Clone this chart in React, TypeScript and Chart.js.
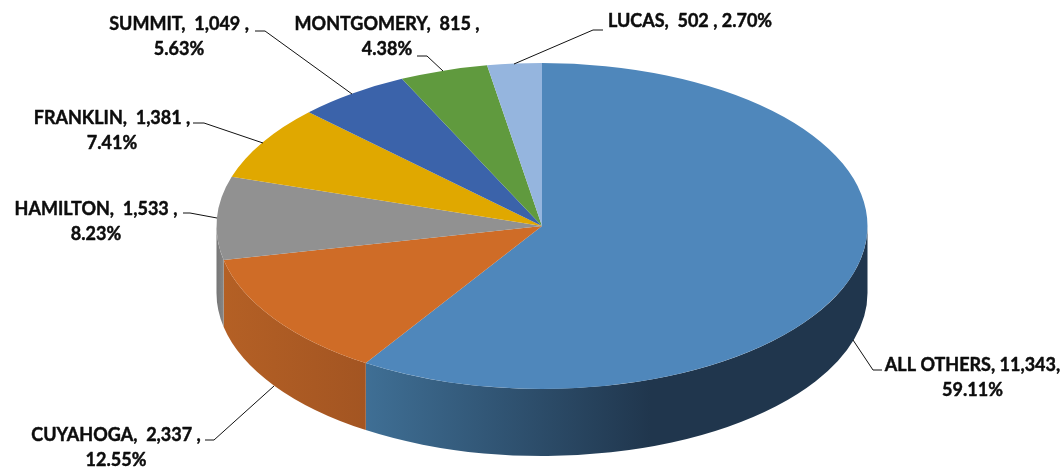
import React, { useEffect, useRef } from "react";
import { Chart, registerables } from "chart.js";

Chart.register(...registerables);

const categories = ["ALL OTHERS", "CUYAHOGA", "HAMILTON", "FRANKLIN", "SUMMIT", "MONTGOMERY", "LUCAS"];
const sharePercent = [59.11, 12.55, 8.23, 7.41, 5.63, 4.38, 2.7];
const labelLines = [
  ["ALL OTHERS, 11,343,", "59.11%"],
  ["CUYAHOGA,  2,337 ,", "12.55%"],
  ["HAMILTON,  1,533 ,", "8.23%"],
  ["FRANKLIN,  1,381 ,", "7.41%"],
  ["SUMMIT,  1,049 ,", "5.63%"],
  ["MONTGOMERY,  815 ,", "4.38%"],
  ["LUCAS,  502 , 2.70%"],
];
const topColors = ["#4F87BB", "#CF6C27", "#919191", "#E0A800", "#3B63AA", "#609A3E", "#95B5DE"];
const wallColors = [
  ["#3F6F95", "#20364D"],
  ["#B46025", "#A35522"],
  ["#767676", "#868686"],
  ["#B08400", "#B08400"],
  ["#2C4A80", "#2C4A80"],
  ["#48742F", "#48742F"],
  ["#7088A8", "#7088A8"],
];
// label centre x, first line middle y
const labelCenters = [
  [972.5, 365],
  [116, 435],
  [96, 209],
  [112, 118],
  [179, 24],
  [387, 24],
  [690, 21],
];
const leaders = [
  [[853, 340], [873, 370], [882, 370]],
  [[274, 386], [214, 440], [205, 440]],
  [[217, 218], [190, 213], [183, 213]],
  [[263, 143], [204, 123], [193, 123]],
  [[352, 94], [265, 31], [255, 31]],
  [[443, 71], [427, 56], [417, 56]],
  [[514, 64], [593, 30], [603, 30]],
];

const CX = 542;
const RX = 325.5;
const RY = 163;
const DEPTH = 67;

const pie3d = {
  id: "pie3d",
  beforeDatasetsDraw(chart: any) {
    const { ctx } = chart;
    const arcs = chart.getDatasetMeta(0).data;
    const cy = arcs[0].y;
    arcs.forEach((arc: any, i: number) => {
      const a0 = Math.max(arc.startAngle, 0);
      const a1 = Math.min(arc.endAngle, Math.PI);
      if (a1 <= a0) return;
      const x0 = CX + RX * Math.cos(a1);
      const x1 = Math.min(CX + RX * Math.cos(a0), x0 + 285);
      const g = ctx.createLinearGradient(x0, 0, x1, 0);
      g.addColorStop(0, wallColors[i][0]);
      g.addColorStop(1, wallColors[i][1]);
      ctx.save();
      ctx.beginPath();
      ctx.ellipse(CX, cy, RX, RY, 0, a0, a1);
      ctx.ellipse(CX, cy + DEPTH, RX, RY, 0, a1, a0, true);
      ctx.closePath();
      ctx.fillStyle = g;
      ctx.fill();
      ctx.restore();
    });
    ctx.save();
    ctx.translate(CX, cy);
    ctx.scale(RX / RY, 1);
    ctx.translate(-CX, -cy);
  },
  afterDatasetsDraw(chart: any) {
    const { ctx } = chart;
    ctx.restore();
    ctx.save();
    ctx.strokeStyle = "#111111";
    ctx.lineWidth = 1;
    leaders.forEach((pts) => {
      ctx.beginPath();
      pts.forEach((p, j) => (j ? ctx.lineTo(p[0], p[1]) : ctx.moveTo(p[0], p[1])));
      ctx.stroke();
    });
    ctx.fillStyle = "#0d0d0d";
    ctx.strokeStyle = "#0d0d0d";
    ctx.lineWidth = 0.45;
    ctx.lineJoin = "round";
    ctx.font = "700 18px Lato";
    ctx.textAlign = "center";
    ctx.textBaseline = "middle";
    labelLines.forEach((lines, i) => {
      lines.forEach((t, j) => {
        const x = labelCenters[i][0];
        const y = labelCenters[i][1] + j * 25.5;
        ctx.fillText(t, x, y);
        ctx.strokeText(t, x, y);
      });
    });
    ctx.restore();
  },
};

export default function App() {
  const ref = useRef<HTMLCanvasElement>(null);
  useEffect(() => {
    document.body.style.margin = "0";
    const chart = new Chart(ref.current!, {
      type: "pie",
      data: {
        labels: categories,
        datasets: [{ data: sharePercent, backgroundColor: topColors, borderWidth: 0, clip: false } as any],
      },
      options: {
        responsive: false,
        animation: false,
        layout: { padding: { left: 379, right: 358, top: 63, bottom: 81 } },
        plugins: { legend: { display: false }, tooltip: { enabled: false } },
      },
      plugins: [pie3d],
    });
    return () => chart.destroy();
  }, []);
  return <canvas ref={ref} width={1063} height={470} style={{ display: "block" }} />;
}
